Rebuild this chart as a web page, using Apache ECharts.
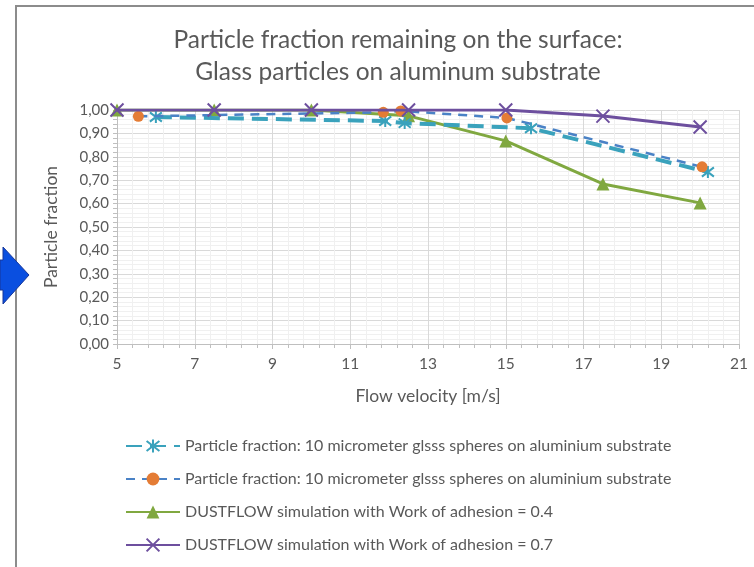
<!DOCTYPE html>
<html>
<head>
<meta charset="utf-8">
<script src="https://cdn.jsdelivr.net/npm/echarts@6/dist/echarts.min.js"></script>
<style>html,body{margin:0;padding:0;background:#fff;}#c{width:754px;height:567px;}</style>
</head>
<body>
<div id="c"></div>
<script>
// ---- data ----
var titleLines = ['Particle fraction remaining on the surface:', 'Glass particles on aluminum substrate'];
var xAxisName = 'Flow velocity [m/s]';
var yAxisName = 'Particle fraction';
var seriesNames = [
  'Particle fraction: 10 micrometer glsss spheres on aluminium substrate',
  'Particle fraction: 10 micrometer glsss spheres on aluminium substrate ',
  'DUSTFLOW simulation with Work of adhesion = 0.4',
  'DUSTFLOW simulation with Work of adhesion = 0.7'
];
var exp1X = [6.0, 11.9, 12.4, 15.65, 20.2];
var exp1Y = [0.970, 0.953, 0.944, 0.922, 0.735];
var exp2X = [5.55, 11.85, 12.3, 15.03, 20.05];
var exp2Y = [0.973, 0.990, 0.996, 0.966, 0.757];
var simX = [5, 7.5, 10, 12.5, 15, 17.5, 20];
var sim04Y = [1.00, 1.00, 1.00, 0.975, 0.868, 0.684, 0.603];
var sim07Y = [1.00, 1.00, 1.00, 1.00, 1.00, 0.974, 0.927];

function pairs(xs, ys) { return xs.map(function (x, i) { return [x, ys[i]]; }); }

var txt = '#595959';
var font = 'Lato, "Open Sans", sans-serif';
var asterisk = 'path://M0,0L10,10M10,0L0,10M5,-1.5L5,11.5';
var cross = 'path://M0,0L10,10M10,0L0,10';

var chart = echarts.init(document.getElementById('c'), null, {renderer: 'canvas'});
chart.setOption({
  backgroundColor: '#fff',
  animation: false,
  textStyle: {fontFamily: font},
  graphic: [
    {type: 'polyline', shape: {points: [[16, 567], [16, 6], [754, 6]]}, style: {stroke: '#8c8c8c', lineWidth: 2, fill: 'none'}},
    {type: 'polygon', shape: {points: [[0, 260], [3, 260], [3, 247], [29, 275], [3, 304], [3, 290], [0, 290]]},
     style: {fill: '#0a4fe0', stroke: '#17379a', lineWidth: 1}}
  ],
  title: {
    text: titleLines.join('\n'),
    left: 393, top: 19, textAlign: 'center',
    textStyle: {color: txt, fontSize: 24.5, fontWeight: 'normal', lineHeight: 32, fontFamily: font}
  },
  grid: {left: 117, right: 15, top: 110, bottom: 223, containLabel: false},
  xAxis: {
    type: 'value', min: 5, max: 21, interval: 2,
    name: xAxisName, nameLocation: 'middle', nameGap: 43,
    nameTextStyle: {color: txt, fontSize: 17.5, fontFamily: font},
    axisLine: {show: true, lineStyle: {color: '#bfbfbf'}},
    axisTick: {show: true, length: 5, lineStyle: {color: '#bfbfbf'}},
    minorTick: {show: true, splitNumber: 5, length: 4, lineStyle: {color: '#bfbfbf'}},
    axisLabel: {color: txt, fontSize: 15.5, margin: 12, fontFamily: font},
    splitLine: {show: true, lineStyle: {color: '#d9d9d9'}},
    minorSplitLine: {show: true, lineStyle: {color: '#f0f0f0'}}
  },
  yAxis: {
    type: 'value', min: 0, max: 1, interval: 0.1,
    name: yAxisName, nameLocation: 'middle', nameGap: 57, nameRotate: 90,
    nameTextStyle: {color: txt, fontSize: 17.5, fontFamily: font},
    axisLine: {show: true, lineStyle: {color: '#bfbfbf'}},
    axisTick: {show: true, length: 4, lineStyle: {color: '#bfbfbf'}},
    minorTick: {show: true, splitNumber: 5, length: 4, lineStyle: {color: '#bfbfbf'}},
    axisLabel: {color: txt, fontSize: 15, margin: 8, fontFamily: font,
      formatter: function (v) { return v.toFixed(2).replace('.', ','); }},
    splitLine: {show: true, lineStyle: {color: '#d9d9d9'}},
    minorSplitLine: {show: true, lineStyle: {color: '#f0f0f0'}}
  },
  legend: {
    orient: 'vertical', left: 120, top: 433, itemGap: 17, itemWidth: 54, itemHeight: 16,
    textStyle: {color: txt, fontSize: 16, lineHeight: 16, fontFamily: font},
    data: seriesNames
  },
  series: [
    {
      name: seriesNames[0], type: 'line', data: pairs(exp1X, exp1Y),
      symbol: asterisk, symbolSize: 12,
      lineStyle: {color: '#3aa2bc', width: 4, type: [16, 8]},
      itemStyle: {color: '#3aa2bc', borderColor: '#3aa2bc', borderWidth: 2}, z: 3
    },
    {
      name: seriesNames[1], type: 'line', data: pairs(exp2X, exp2Y),
      symbol: 'circle', symbolSize: 11,
      lineStyle: {color: '#4a82c6', width: 2.5, type: [9, 7]},
      itemStyle: {color: '#e47c35', borderWidth: 0}, z: 4
    },
    {
      name: seriesNames[2], type: 'line', data: pairs(simX, sim04Y),
      symbol: 'triangle', symbolSize: 13,
      lineStyle: {color: '#80a840', width: 3},
      itemStyle: {color: '#80a840', borderWidth: 0}, z: 2
    },
    {
      name: seriesNames[3], type: 'line', data: pairs(simX, sim07Y),
      symbol: cross, symbolSize: 13,
      lineStyle: {color: '#6d4f9e', width: 3},
      itemStyle: {color: '#6d4f9e', borderColor: '#6d4f9e', borderWidth: 2}, z: 5
    }
  ]
});
</script>
</body>
</html>
